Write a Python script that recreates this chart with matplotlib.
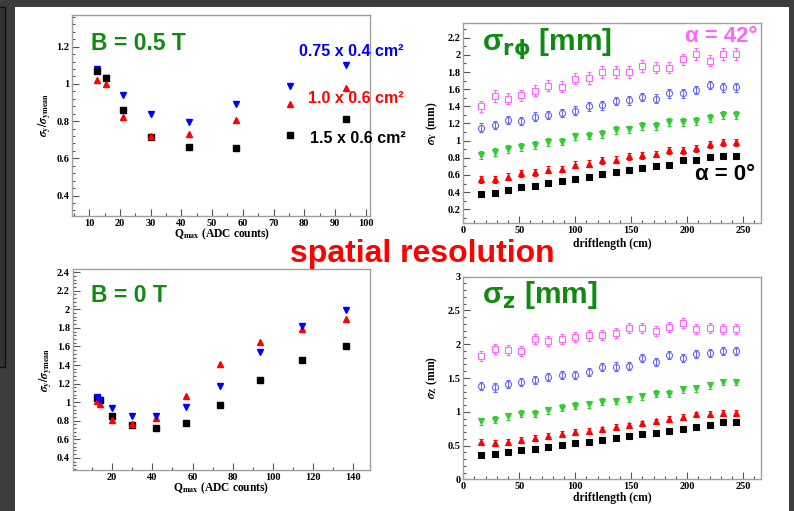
import matplotlib
matplotlib.use("Agg")
import matplotlib.pyplot as plt
from matplotlib.patches import Rectangle
from matplotlib.ticker import MultipleLocator, FuncFormatter

# ---------------- data ----------------
# relative resolution vs Qmax, B = 0.5 T
qmax_b05 = [12.4, 15.6, 21.1, 30.0, 42.5, 57.8, 75.5, 93.6]
pad075_b05 = [1.08, 1.03, 0.94, 0.84, 0.795, 0.89, 0.99, 1.10]
pad10_b05 = [1.02, 1.00, 0.82, 0.718, 0.733, 0.807, 0.89, 0.98]
pad15_b05 = [1.07, 1.03, 0.86, 0.716, 0.66, 0.653, 0.727, 0.81]

# relative resolution vs Qmax, B = 0 T
qmax_b0 = [12.4, 14.0, 20.0, 30.1, 42.0, 56.6, 73.7, 93.6, 114.3, 136.2]
pad075_b0 = [1.06, 1.02, 0.934, 0.852, 0.855, 0.945, 1.171, 1.54, 1.823, 1.995]
pad10_b0 = [1.01, 0.984, 0.812, 0.766, 0.83, 1.063, 1.41, 1.647, 1.787, 1.898]
pad15_b0 = [1.05, 1.02, 0.855, 0.751, 0.723, 0.773, 0.966, 1.242, 1.457, 1.608]

# resolution vs drift length for several track angles
drift = [16, 28, 40, 52, 64, 76, 88, 100, 112, 124,
         136, 148, 160, 172, 184, 196, 208, 220, 232, 244]

rphi_a42 = [1.40, 1.52, 1.49, 1.53, 1.58, 1.64, 1.63, 1.72, 1.73, 1.80,
            1.80, 1.80, 1.87, 1.85, 1.85, 1.95, 2.01, 1.93, 2.01, 2.01]
rphi_a30 = [1.15, 1.18, 1.24, 1.23, 1.28, 1.30, 1.32, 1.35, 1.40, 1.41,
            1.46, 1.47, 1.51, 1.49, 1.55, 1.55, 1.59, 1.65, 1.62, 1.62]
rphi_a20 = [0.83, 0.87, 0.90, 0.93, 0.95, 0.985, 0.99, 1.05, 1.06, 1.08,
            1.12, 1.13, 1.17, 1.17, 1.22, 1.22, 1.23, 1.26, 1.30, 1.30]
rphi_a10 = [0.55, 0.55, 0.58, 0.62, 0.63, 0.66, 0.67, 0.72, 0.73, 0.77,
            0.78, 0.82, 0.83, 0.845, 0.89, 0.89, 0.91, 0.96, 0.98, 0.98]
rphi_a0 = [0.375, 0.39, 0.43, 0.457, 0.476, 0.503, 0.526, 0.557, 0.581, 0.608,
           0.639, 0.655, 0.686, 0.709, 0.721, 0.771, 0.771, 0.81, 0.825, 0.825]

z_a42 = [1.82, 1.93, 1.92, 1.90, 2.08, 2.05, 2.08, 2.11, 2.13, 2.14,
         2.17, 2.24, 2.24, 2.19, 2.25, 2.31, 2.23, 2.24, 2.23, 2.23]
z_a30 = [1.38, 1.36, 1.41, 1.44, 1.47, 1.51, 1.55, 1.55, 1.59, 1.66,
         1.67, 1.68, 1.80, 1.74, 1.84, 1.79, 1.86, 1.87, 1.90, 1.90]
z_a20 = [0.86, 0.88, 0.93, 0.97, 0.97, 1.02, 1.06, 1.09, 1.11, 1.15,
         1.16, 1.19, 1.23, 1.27, 1.27, 1.33, 1.35, 1.39, 1.44, 1.44]
z_a10 = [0.55, 0.54, 0.555, 0.58, 0.61, 0.64, 0.67, 0.70, 0.72, 0.74,
         0.78, 0.80, 0.83, 0.86, 0.89, 0.92, 0.96, 0.97, 0.985, 0.985]
z_a0 = [0.36, 0.375, 0.41, 0.435, 0.45, 0.485, 0.505, 0.535, 0.55, 0.575,
        0.615, 0.645, 0.665, 0.68, 0.71, 0.745, 0.78, 0.805, 0.845, 0.845]

# statistical errors per angle series (mm)
rphi_err = [0.065, 0.05, 0.045, 0.04, 0.02]
z_err = [0.075, 0.06, 0.05, 0.04, 0.02]

# ---------------- figure ----------------
W, H = 794, 511
plt.rcParams["font.family"] = ["Liberation Serif", "DejaVu Serif"]
plt.rcParams["font.weight"] = "bold"

fig = plt.figure(figsize=(W / 100, H / 100), dpi=100)
fig.patch.set_facecolor("#3c3c3c")


def fx(x):
    return x / W


def fy(y):
    return 1 - y / H


# white page
fig.add_artist(Rectangle((fx(15), 0), fx(789) - fx(15), fy(7), transform=fig.transFigure,
                         facecolor="white", edgecolor="none", zorder=-5))
fig.add_artist(Rectangle((fx(-2), fy(367)), fx(7), fy(7) - fy(367), transform=fig.transFigure,
                         facecolor="#333333", edgecolor="#111111", lw=1, zorder=-5))


def make_axes(x0, y0, x1, y1):
    return fig.add_axes([fx(x0), fy(y1), fx(x1) - fx(x0), fy(y0) - fy(y1)])


def style(ax, xlim, ylim, xmaj, xmin, ymaj, ymin):
    ax.set_xlim(*xlim)
    ax.set_ylim(*ylim)
    ax.xaxis.set_major_locator(MultipleLocator(xmaj))
    ax.xaxis.set_minor_locator(MultipleLocator(xmin))
    ax.yaxis.set_major_locator(MultipleLocator(ymaj))
    ax.yaxis.set_minor_locator(MultipleLocator(ymin))
    fmt = FuncFormatter(lambda v, p: f"{v:g}")
    ax.xaxis.set_major_formatter(fmt)
    ax.yaxis.set_major_formatter(fmt)
    ax.tick_params(which="both", direction="in", top=False, right=False,
                   color="#555555", width=0.8, labelsize=7.5)
    ax.tick_params(which="major", length=5)
    ax.tick_params(which="minor", length=2.5)
    ax.tick_params(axis="y", pad=2)
    ax.tick_params(axis="x", pad=2)
    for sp in ax.spines.values():
        sp.set_color("#a0a0a0")
        sp.set_linewidth(1.0)


sans = ["Liberation Sans", "DejaVu Sans"]


def label(x, y, s, **kw):
    fig.text(fx(x), fy(y), s, **kw)


# ---- top left: B = 0.5 T ----
ax1 = make_axes(72, 15, 370, 216)
style(ax1, (4.4, 101.4), (0.29, 1.37), 10, 5, 0.2, 0.04)
ax1.plot(qmax_b05, pad075_b05, ls="none", marker="v", ms=4.6, color="#0000ff")
ax1.plot(qmax_b05, pad15_b05, ls="none", marker="s", ms=4.3, color="black")
ax1.plot(qmax_b05, pad10_b05, ls="none", marker="^", ms=4.6, color="#ff0000")

# ---- bottom left: B = 0 T ----
ax3 = make_axes(72.7, 269.3, 370, 470)
style(ax3, (0.4, 148.3), (0.27, 2.43), 20, 10, 0.2, 0.04)
ax3.plot(qmax_b0, pad15_b0, ls="none", marker="s", ms=4.3, color="black")
ax3.plot(qmax_b0, pad10_b0, ls="none", marker="^", ms=4.6, color="#ff0000")
ax3.plot(qmax_b0, pad075_b0, ls="none", marker="v", ms=4.6, color="#0000ff")

# ---- angle series (drift panels) ----
angle_styles = [
    dict(marker="s", color="#ff66ff", mfc="white", ms=4.2),
    dict(marker="o", color="#6666ff", mfc="none", ms=4.4),
    dict(marker="v", color="#33cc33", mfc="#33cc33", ms=4.8),
    dict(marker="^", color="#ff0000", mfc="#ff0000", ms=4.8),
    dict(marker="s", color="black", mfc="black", ms=4.6),
]


def draw_drift(ax, series, errs):
    for vals, err, st in zip(series, errs, angle_styles):
        ax.errorbar(drift, vals, yerr=err, ls="none", marker=st["marker"], ms=st["ms"],
                    color=st["color"], mfc=st["mfc"], mec=st["color"], mew=0.8,
                    elinewidth=0.7, capsize=1.6, capthick=0.7)


ax2 = make_axes(463.3, 22.7, 761, 223)
style(ax2, (0, 266), (0.04, 2.375), 50, 10, 0.2, 0.1)
draw_drift(ax2, [rphi_a42, rphi_a30, rphi_a20, rphi_a10, rphi_a0], rphi_err)

ax4 = make_axes(463.3, 276.7, 761, 479.3)
style(ax4, (0, 266), (0, 3), 50, 10, 0.5, 0.1)
draw_drift(ax4, [z_a42, z_a30, z_a20, z_a10, z_a0], z_err)

# ---- axis titles ----
lab = dict(fontsize=8.3, fontweight="bold", math_fontfamily="stix", ha="center", va="center")
label(44.5, 115, r"$\sigma_{\mathbf{y}}/\sigma_{\mathbf{ymean}}$", rotation=90, **lab)
label(46, 370, r"$\sigma_{\mathbf{y}}/\sigma_{\mathbf{ymean}}$", rotation=90, **lab)
label(222, 234.5, r"Q$_{\mathbf{max}}$ (ADC counts)", **lab)
label(221, 488.5, r"Q$_{\mathbf{max}}$ (ADC counts)", **lab)
label(432, 123, r"$\sigma_{\mathbf{Y}}$ (mm)", rotation=90, **lab)
label(432, 378, r"$\sigma_{\mathbf{Z}}$ (mm)", rotation=90, **lab)
label(612, 244, "driftlength (cm)", **lab)
label(612, 498, "driftlength (cm)", **lab)

# ---- annotations ----
green = "#108a10"
big = dict(family=sans, fontweight="bold", ha="left", va="baseline")
label(91, 50, "B = 0.5 T", color=green, fontsize=16.5, **big)
label(91, 302, "B = 0 T", color=green, fontsize=16.5, **big)
label(299, 56, "0.75 x 0.4 cm²", color="#0000ff", fontsize=11.5, **big)
label(308, 103, "1.0 x 0.6 cm²", color="#ff0000", fontsize=11.5, **big)
label(310, 143, "1.5 x 0.6 cm²", color="black", fontsize=11.5, **big)
label(482, 50, r"σ$_{\mathbf{r\phi}}$ [mm]", color=green, fontsize=21.5,
      math_fontfamily="dejavusans", **big)
label(482, 303, r"σ$_{\mathbf{z}}$ [mm]", color=green, fontsize=21.5,
      math_fontfamily="dejavusans", **big)
label(685, 42, "α = 42°", color="#ff66ff", fontsize=16, **big)
label(695, 180, "α = 0°", color="black", fontsize=16, **big)
label(290, 262, "spatial resolution", color="#ff0000", fontsize=23, **big)

fig.savefig("out.png", dpi=100, facecolor=fig.get_facecolor())
